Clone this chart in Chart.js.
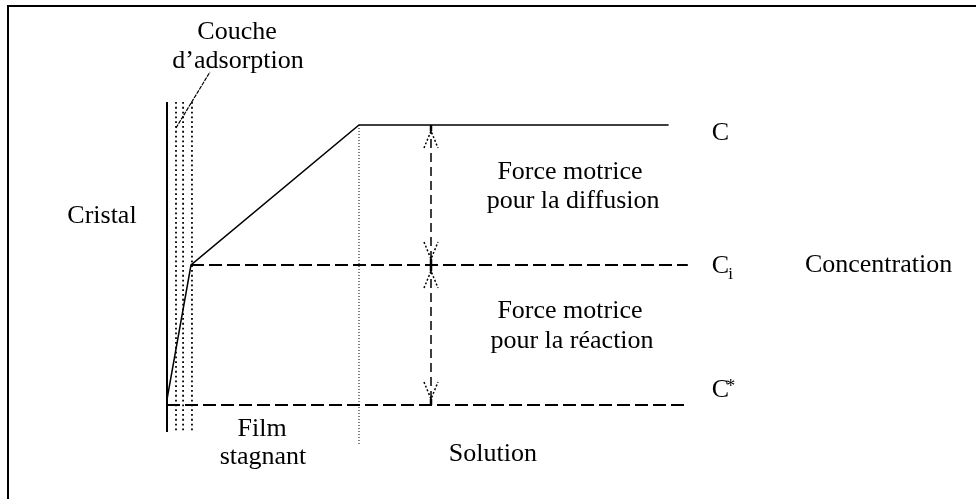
<!DOCTYPE html>
<html lang="fr">
<head>
  <meta charset="UTF-8">
  <title>Profil de concentration près du cristal</title>
  <style>
    body {
      margin: 0;
      background: #fff;
      width: 976px;
      height: 499px;
      overflow: hidden;
      position: relative;
    }
    #frame {
      position: absolute;
      left: 7px;
      top: 5px;
      width: 1000px;
      height: 520px;
      border-left: 2px solid #000;
      border-top: 2px solid #000;
    }
    #chartBox {
      position: absolute;
      left: 0;
      top: 0;
      width: 976px;
      height: 499px;
    }
  </style>
</head>
<body>
  <div id="frame"></div>
  <div id="chartBox">
    <canvas id="profileChart" width="976" height="499"></canvas>
  </div>

  <script src="https://cdn.jsdelivr.net/npm/chart.js"></script>
  <script>
    // distance from crystal surface (arbitrary units) and concentration (C* = 0, Ci = 1, C = 2)
    const profileX = [0, 1, 8, 20.9];
    const profileC = [0.04, 1, 2, 2];

    const levelNames = ['C', 'C', 'C'];
    const levelMarks = ['', 'i', '*'];
    const levelValues = [2, 1, 0];
    const levelStart = [8, 1, 0];
    const levelEnd = [20.9, 21.7, 21.7];

    const adsorptionX = [0.375, 0.67, 1.04]; // stippled adsorption layer
    const filmEdgeX = 8;
    const arrowX = 11;

    const regionNames = ['Cristal', 'Film', 'stagnant', 'Solution'];
    const forceNames = ['Force motrice', 'pour la diffusion', 'Force motrice', 'pour la réaction'];
    const layerNames = ['Couche', 'd’adsorption'];
    const axisName = 'Concentration';

    const black = '#000';
    const serif = '26px "Liberation Serif", "Times New Roman", serif';

    function seg(x1, y1, x2, y2) {
      return [{ x: x1, y: y1 }, { x: x2, y: y2 }];
    }

    function lineSet(data, width, dash) {
      return {
        data: data,
        showLine: true,
        borderColor: black,
        borderWidth: width,
        borderDash: dash || [],
        pointRadius: 0,
        tension: 0,
        clip: false
      };
    }

    const datasets = [];
    // concentration profile
    datasets.push(lineSet(profileX.map((x, i) => ({ x: x, y: profileC[i] })), 1.5));
    // Ci and C* levels (dashed)
    for (let i = 1; i < levelValues.length; i++) {
      datasets.push(lineSet(seg(levelStart[i], levelValues[i], levelEnd[i], levelValues[i]), 2, [13, 5]));
    }
    // crystal surface
    datasets.push(lineSet(seg(0, 2.164, 0, -0.193), 2));
    // adsorption layer stipple
    adsorptionX.forEach(x => datasets.push(lineSet(seg(x, 2.164, x, -0.193), 1.8, [1.8, 3])));
    // film / solution boundary
    datasets.push(lineSet(seg(filmEdgeX, 2, filmEdgeX, -0.286), 1, [1, 2]));
    // driving force arrows
    datasets.push(lineSet(seg(arrowX, levelValues[0], arrowX, levelValues[1]), 1.5, [9, 5]));
    datasets.push(lineSet(seg(arrowX, levelValues[1], arrowX, levelValues[2]), 1.5, [9, 5]));
    // pointer to adsorption layer
    datasets.push(lineSet(seg(0.375, 1.979, 1.79, 2.379), 1.2, [4, 1]));

    // label anchors in data units: [text, x, y, align]
    const labels = [
      [layerNames[0], 2.92, 2.614, 'center'],
      [layerNames[1], 2.96, 2.407, 'center'],
      [regionNames[0], -2.71, 1.3, 'center'],
      [regionNames[1], 3.96, -0.221, 'center'],
      [regionNames[2], 4.0, -0.421, 'center'],
      [regionNames[3], 13.58, -0.4, 'center'],
      [forceNames[0], 16.79, 1.614, 'center'],
      [forceNames[1], 16.92, 1.407, 'center'],
      [forceNames[2], 16.79, 0.621, 'center'],
      [forceNames[3], 16.875, 0.407, 'center'],
      [axisName, 26.58, 0.95, 'left']
    ];
    const levelLabelX = 22.7;
    const levelLabelY = [1.893, 0.943, 0.057];

    const annotations = {
      id: 'annotations',
      afterDatasetsDraw(chart) {
        const ctx = chart.ctx;
        const xs = chart.scales.x, ys = chart.scales.y;
        ctx.save();
        ctx.fillStyle = black;
        ctx.strokeStyle = black;
        ctx.font = serif;
        ctx.textBaseline = 'alphabetic';

        labels.forEach(l => {
          ctx.textAlign = l[3];
          ctx.fillText(l[0], xs.getPixelForValue(l[1]), ys.getPixelForValue(l[2]));
        });

        // level names C, Ci, C*
        ctx.textAlign = 'left';
        levelNames.forEach((name, i) => {
          const px = xs.getPixelForValue(levelLabelX);
          const py = ys.getPixelForValue(levelLabelY[i]);
          ctx.font = serif;
          ctx.fillText(name, px, py);
          const w = ctx.measureText(name).width;
          if (levelMarks[i] === 'i') {
            ctx.font = '17px "Liberation Serif", serif';
            ctx.fillText('i', px + w - 1, py + 6);
          } else if (levelMarks[i] === '*') {
            ctx.font = '18px "Liberation Serif", serif';
            ctx.fillText('*', px + w - 3, py - 5);
          }
        });

        // arrow heads
        const ax = xs.getPixelForValue(arrowX);
        const heads = [
          [levelValues[0], 1], [levelValues[1], -1],
          [levelValues[1], 1], [levelValues[2], -1]
        ];
        heads.forEach(h => {
          const ly = ys.getPixelForValue(h[0]);
          const dir = h[1];
          const apex = ly + dir * 6;
          ctx.setLineDash([]);
          ctx.lineWidth = 2.5;
          ctx.beginPath();
          ctx.moveTo(ax, ly);
          ctx.lineTo(ax, apex);
          ctx.stroke();
          ctx.setLineDash([2, 2]);
          ctx.lineWidth = 1.5;
          ctx.beginPath();
          ctx.moveTo(ax - 7, apex + dir * 17);
          ctx.lineTo(ax, apex);
          ctx.lineTo(ax + 7, apex + dir * 17);
          ctx.stroke();
        });
        ctx.restore();
      }
    };

    new Chart(document.getElementById('profileChart'), {
      type: 'scatter',
      data: { datasets: datasets },
      options: {
        responsive: false,
        animation: false,
        events: [],
        layout: { padding: 0 },
        plugins: {
          legend: { display: false },
          tooltip: { enabled: false }
        },
        scales: {
          x: { type: 'linear', display: false, min: -167 / 24, max: (976 - 167) / 24 },
          y: { type: 'linear', display: false, min: -(499 - 405) / 140, max: 405 / 140 }
        }
      },
      plugins: [annotations]
    });
  </script>
</body>
</html>
